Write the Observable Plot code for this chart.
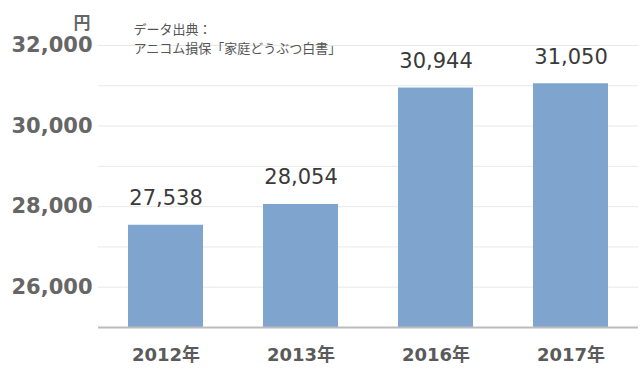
<!DOCTYPE html>
<html>
<head>
<meta charset="utf-8">
<script src="https://cdn.jsdelivr.net/npm/d3@7"></script>
<script src="https://cdn.jsdelivr.net/npm/@observablehq/plot@0.6"></script>
<style>
  html, body { margin: 0; padding: 0; background: #fff; }
  #chart svg { display: block; }
</style>
</head>
<body>
<div id="chart"></div>
<script>
const years = ["2012年", "2013年", "2016年", "2017年"];
const values = [27538, 28054, 30944, 31050];
const yTicks = [26000, 28000, 30000, 32000];
const gridTicks = [25000, 26000, 27000, 28000, 29000, 30000, 31000, 32000];
const unitLabel = "円";
const sourceLines = ["データ出典：", "アニコム損保「家庭どうぶつ白書」"];

const data = years.map((year, i) => ({year, value: values[i]}));
const fmt = d3.format(",");
const baseFont = "'DejaVu Sans', Verdana, 'Noto Sans CJK JP', sans-serif";

const chart = Plot.plot({
  width: 642,
  height: 378,
  marginLeft: 98,
  marginRight: 4,
  marginTop: 45,
  marginBottom: 51,
  style: {fontFamily: baseFont, background: "#fff"},
  x: {domain: years, paddingInner: 0.444, paddingOuter: 0.222},
  y: {domain: [25000, 32000]},
  marks: [
    Plot.gridY(gridTicks, {stroke: "#e8e8e8", strokeOpacity: 1, strokeWidth: 1}),
    Plot.barY(data, {x: "year", y1: 25000, y2: "value", fill: "#7fa5cf"}),
    Plot.ruleY([25000], {stroke: "#bcbcbc", strokeWidth: 2}),
    Plot.axisY(yTicks, {
      tickSize: 0, tickPadding: 6, tickFormat: fmt, label: null,
      fontSize: 21, fontWeight: "bold", fill: "#666"
    }),
    Plot.axisX({
      tickSize: 0, tickPadding: 21, label: null,
      fontSize: 18, fontWeight: "bold", fill: "#5a5a5a"
    }),
    Plot.text(data, {
      x: "year", y: "value", text: d => fmt(d.value),
      dy: -27, fontSize: 21, fill: "#3a3a3a"
    }),
    Plot.text([unitLabel], {
      frameAnchor: "top-left", textAnchor: "end", lineAnchor: "middle",
      dx: -8, dy: -22, fontSize: 17, fontWeight: "bold", fill: "#666"
    }),
    Plot.text([sourceLines[0]], {
      frameAnchor: "top-left", textAnchor: "start", lineAnchor: "middle",
      dx: 35, dy: -16, fontSize: 13, fill: "#555",
      fontFamily: "'Noto Sans CJK JP', sans-serif"
    }),
    Plot.text([sourceLines[1]], {
      frameAnchor: "top-left", textAnchor: "start", lineAnchor: "middle",
      dx: 35, dy: 3, fontSize: 13, fill: "#555",
      fontFamily: "'Noto Sans CJK JP', sans-serif"
    })
  ]
});
document.getElementById("chart").appendChild(chart);
</script>
</body>
</html>
